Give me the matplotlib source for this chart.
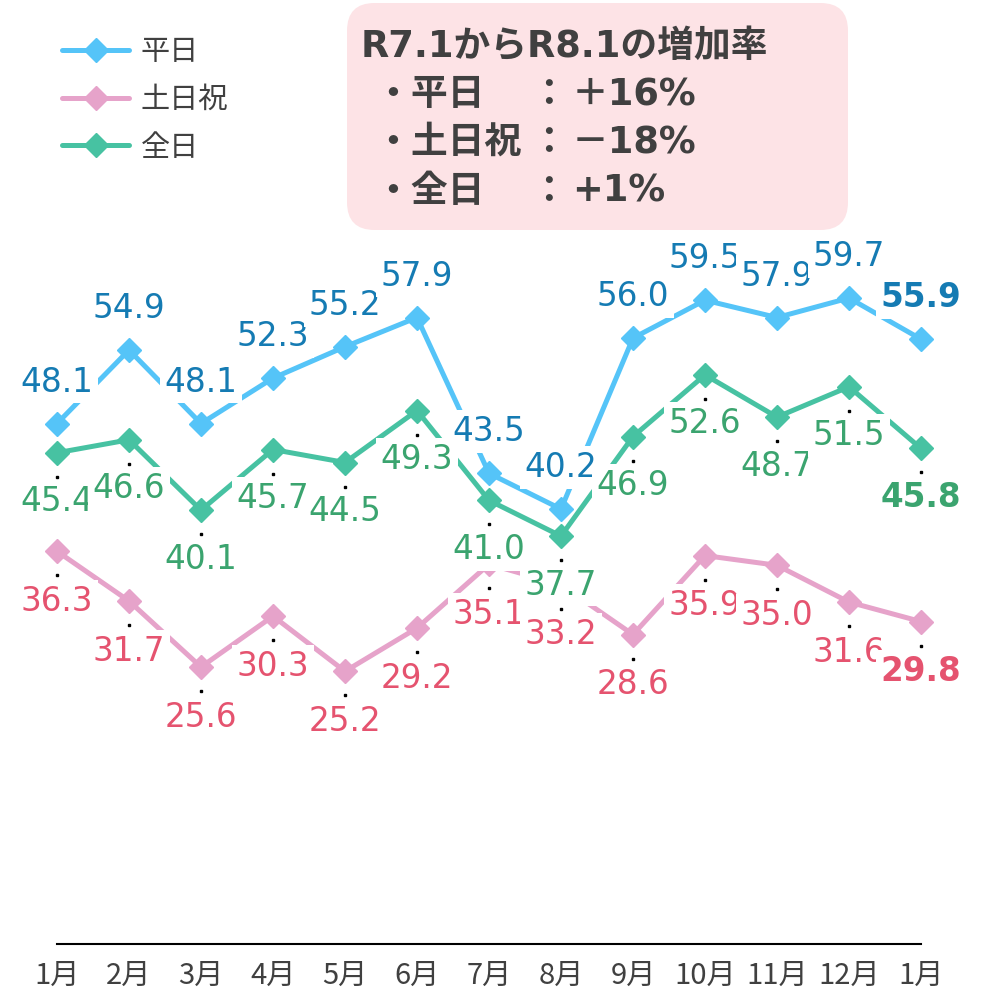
import matplotlib
matplotlib.use('Agg')
import matplotlib.pyplot as plt
from matplotlib.patches import FancyBboxPatch
from matplotlib.transforms import offset_copy
from matplotlib.lines import Line2D

plt.rcParams['font.family'] = ['DejaVu Sans', 'Noto Sans CJK JP']

# ---------------- data ----------------
months = ['1月', '2月', '3月', '4月', '5月', '6月', '7月', '8月', '9月',
          '10月', '11月', '12月', '1月']
weekday = [48.1, 54.9, 48.1, 52.3, 55.2, 57.9, 43.5, 40.2, 56.0, 59.5, 57.9, 59.7, 55.9]
holiday = [36.3, 31.7, 25.6, 30.3, 25.2, 29.2, 35.1, 33.2, 28.6, 35.9, 35.0, 31.6, 29.8]
allday = [45.4, 46.6, 40.1, 45.7, 44.5, 49.3, 41.0, 37.7, 46.9, 52.6, 48.7, 51.5, 45.8]
series_names = ['平日', '土日祝', '全日']

box_title = 'R7.1からR8.1の増加率'
box_items = ['・平日', '・土日祝', '・全日']
box_values = ['＋16%', '－18%', '+1%']

# ---------------- style ----------------
line_colors = ['#55C4F8', '#E6A3CA', '#47C2A2']
label_colors = ['#157BB3', '#E5536F', '#3BA46F']
text_gray = '#404040'
label_size = 23.5
box_size = 26.5
# label placement (pixels): baseline offset, dot offset
label_dy = [32.0, -59.5, -58.5]
dot_dy = [24, -24, -24]

W, H = 984, 992
fig = plt.figure(figsize=(W / 100, H / 100), dpi=100)
ax = fig.add_axes([57 / W, 48 / H, 864 / W, 865.6 / H])
ax.set_facecolor('none')
ax.set_xlim(0, 12)
ax.set_ylim(0, 80)

xs = list(range(len(months)))
data = [weekday, holiday, allday]

handles = []
for k, (vals, name) in enumerate(zip(data, series_names)):
    ax.plot(xs, vals, color=line_colors[k], lw=3.6, marker='D', ms=12,
            mec=line_colors[k], mfc=line_colors[k], clip_on=False,
            zorder=3, solid_joinstyle='miter')
    handles.append(Line2D([], [], color=line_colors[k], lw=3.6, marker='D',
                          ms=12.5, solid_capstyle='round'))
    # small leader dots
    tr = offset_copy(ax.transData, fig=fig, x=0, y=dot_dy[k], units='dots')
    ax.plot(xs, vals, ls='none', marker='s', ms=1.5, color='black',
            transform=tr, clip_on=False, zorder=4)
    # value labels
    for i, v in enumerate(vals):
        last = (i == len(vals) - 1)
        ax.annotate(f'{v:.1f}', (i, v), xytext=(0, label_dy[k]),
                    textcoords='offset pixels', ha='center', va='baseline',
                    fontsize=label_size, color=label_colors[k],
                    fontweight='bold' if last else 'normal',
                    family='DejaVu Sans',
                    bbox=dict(boxstyle='square,pad=0.15', fc='white', ec='none'),
                    zorder=5, annotation_clip=False)

# axes styling
for s in ['left', 'right', 'top']:
    ax.spines[s].set_visible(False)
ax.spines['bottom'].set_linewidth(1.5)
ax.spines['bottom'].set_color('black')
ax.set_yticks([])
ax.set_xticks(xs)
ax.set_xticklabels(months, fontsize=21, color=text_gray, family='Noto Sans CJK JP')
ax.tick_params(axis='x', length=0, pad=12)

# legend
leg = ax.legend(handles, series_names, loc='upper left',
                bbox_to_anchor=(62 / W, 1 - 37 / H), bbox_transform=fig.transFigure,
                frameon=False, handlelength=2.3, handletextpad=0.4,
                labelspacing=0.61, borderpad=0, borderaxespad=0,
                prop={'family': 'Noto Sans CJK JP', 'size': 21},
                labelcolor=text_gray)

# info box
box = FancyBboxPatch((347 / W, 1 - 230 / H), (848 - 347) / W, 227 / H,
                     boxstyle='round,pad=0,rounding_size=0.028',
                     transform=fig.transFigure, fc='#FDE3E6', ec='none', zorder=0)
fig.add_artist(box)
fig.text(361 / W, 1 - 57 / H, box_title, fontsize=box_size, fontweight='bold',
         color=text_gray, va='baseline', ha='left')
baselines = [105, 153, 202]
for item, val, yb in zip(box_items, box_values, baselines):
    fig.text(374 / W, 1 - yb / H, item, fontsize=box_size, fontweight='bold',
             color=text_gray, va='baseline', ha='left',
             family=['Noto Sans CJK JP'])
    fig.text(548 / W, 1 - yb / H, '：', fontsize=box_size, fontweight='bold',
             color=text_gray, va='baseline', ha='center',
             family=['Noto Sans CJK JP'])
    fig.text(572 / W, 1 - yb / H, val, fontsize=box_size, fontweight='bold',
             color=text_gray, va='baseline', ha='left')

fig.savefig('out.png', dpi=100, facecolor='white')
